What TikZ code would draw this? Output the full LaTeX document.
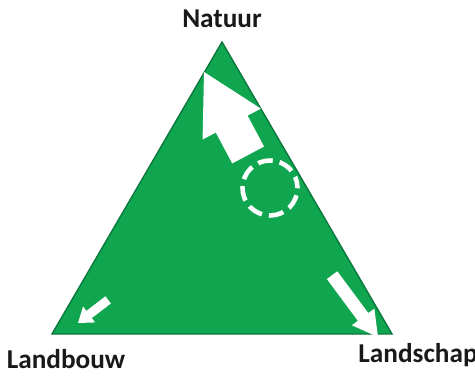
\documentclass[tikz,border=0pt]{standalone}
\usepackage{fontspec}
\setmainfont{Carlito}
\usetikzlibrary{positioning}

\definecolor{fieldgreen}{RGB}{16,166,80}
\definecolor{edgegreen}{RGB}{10,120,60}

\begin{document}
\begin{tikzpicture}[
  x=0.02cm, y=-0.02cm,
  corner/.style={font=\fontsize{15.5}{18}\selectfont\bfseries, text=black!90},
  field/.style={fill=fieldgreen, draw=edgegreen, line width=0.8pt, line join=miter},
  push/.style={fill=white, draw=none}
]
  \useasboundingbox (0,0) rectangle (475,378);

  % corners of the triangle
  \coordinate (top) at (222,42);
  \coordinate (left) at (52,334);
  \coordinate (right) at (392,334);
  \draw[field] (top) -- (left) -- (right) -- cycle;

  \node[corner] (natuur) at (222,19) {Natuur};
  \node[corner] (landbouw) at (66,359) {Landbouw};
  \node[corner] (landschap) at (418,355) {Landschap};

  % big arrow towards Natuur
  \begin{scope}[shift={(204,72)}, rotate=-62]
    \fill[push] (0,0) -- (59,33) -- (59,18) -- (94,18) -- (94,-18) -- (59,-18) -- (59,-33) -- cycle;
  \end{scope}

  % small arrow towards Landbouw
  \begin{scope}[shift={(78,323)}, rotate=37.5]
    \fill[push] (0,0) -- (14,10) -- (14,4.5) -- (38,4.5) -- (38,-4.5) -- (14,-4.5) -- (14,-10) -- cycle;
  \end{scope}

  % arrow towards Landschap
  \begin{scope}[shift={(378,337)}, rotate=126.6]
    \fill[push] (0,0) -- (25,14) -- (25,6.5) -- (77,6.5) -- (77,-6.5) -- (25,-6.5) -- (25,-14) -- cycle;
  \end{scope}

  % current position
  \node[circle, draw=white, line width=2.6pt, dash pattern=on 8.5pt off 4pt, dash phase=2pt, minimum size=1.1cm, inner sep=0pt] (pos) at (270,188) {};
\end{tikzpicture}
\end{document}
